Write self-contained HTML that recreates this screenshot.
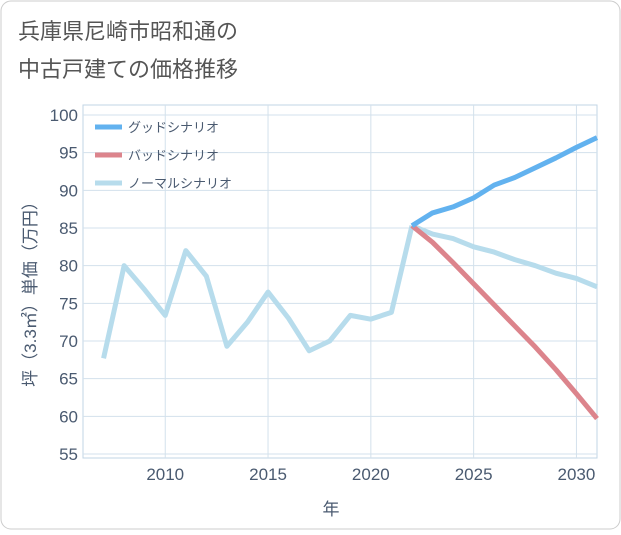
<!DOCTYPE html>
<html><head><meta charset="utf-8"><style>
body{margin:0;background:#fff;}
#c{position:relative;width:621px;height:530px;}
svg text{font-family:"Liberation Sans","Noto Sans CJK JP",sans-serif;}
</style></head><body>
<div id="c">
<svg id="s" width="621" height="530" xmlns="http://www.w3.org/2000/svg">
<rect x="1" y="1" width="619" height="528" rx="10" fill="#fff" stroke="#ccc"/>
<text x="18" y="39" font-size="22" fill="#555">兵庫県尼崎市昭和通の</text>
<text x="18" y="77" font-size="22" fill="#555">中古戸建ての価格推移</text>
<g id="grid"></g>
<g id="series"></g>
<g id="legend"></g>
<text x="331" y="515" font-size="17" fill="#4a5a70" text-anchor="middle">年</text>
<text transform="translate(36,290) rotate(-90)" font-size="17" fill="#4a5a70" text-anchor="middle">坪（3.3㎡）単価（万円）</text>
</svg></div>
<script>
const years=[2007,2008,2009,2010,2011,2012,2013,2014,2015,2016,2017,2018,2019,2020,2021,2022];
const history=[67.7,80,76.8,73.4,82,78.6,69.3,72.5,76.5,73,68.7,70,73.4,72.9,73.8,85.3];
const futureYears=[2022,2023,2024,2025,2026,2027,2028,2029,2030,2031];
const good=[85.3,87,87.8,89,90.7,91.7,93,94.3,95.7,97];
const bad=[85.3,83.1,80.4,77.6,74.8,72.0,69.2,66.2,63.0,59.7];
const normal=[85.3,84.2,83.6,82.5,81.8,80.8,80,79,78.3,77.2];
const yTicks=[55,60,65,70,75,80,85,90,95,100];
const xTicks=[2010,2015,2020,2025,2030];
const L=83,R=597,T=105,B=458;
const xS=v=>L+(v-2006)*(R-L)/25;
const yS=v=>454-(v-55)*(454-115)/45;
const NS="http://www.w3.org/2000/svg";
function mk(t,a,p){const e=document.createElementNS(NS,t);for(const k in a)e.setAttribute(k,a[k]);p.appendChild(e);return e;}
const g=document.getElementById('grid');
let r=mk('rect',{x:L,y:T,width:R-L,height:B-T,fill:'none',stroke:'#c2d4e4'},g);


yTicks.forEach(v=>{
 let l=mk('line',{x1:L,x2:R,y1:yS(v),y2:yS(v),stroke:'#d3e1ec'},g);
 
 
 let t=mk('text',{x:L-5,y:yS(v)+6,'font-size':17,fill:'#4a5a70','text-anchor':'end'},g);t.textContent=v;
 
 
});
xTicks.forEach(v=>{
 let l=mk('line',{x1:xS(v),x2:xS(v),y1:T,y2:B,stroke:'#d3e1ec'},g);
 
 
 let t=mk('text',{x:xS(v),y:480,'font-size':17,fill:'#4a5a70','text-anchor':'middle'},g);t.textContent=v;
 
 
});
const s=document.getElementById('series');
function line(xs,ys,c,name){
 const p=mk('polyline',{points:xs.map((x,i)=>xS(x)+','+yS(ys[i])).join(' '),fill:'none',stroke:c,'stroke-width':5,'stroke-linejoin':'round'},s);
 
 
}
line(years,history,'#b7dcec','history-line');
line(futureYears,normal,'#b7dcec','normal-scenario-line');
line(futureYears,bad,'#dc848c','bad-scenario-line');
line(futureYears,good,'#62b2ef','good-scenario-line');
const lg=document.getElementById('legend');
[['グッドシナリオ','#62b2ef','legend-good'],['バッドシナリオ','#dc848c','legend-bad'],['ノーマルシナリオ','#b7dcec','legend-normal']].forEach((d,i)=>{
 const y=127+i*28;
 let l=mk('line',{x1:95,x2:122,y1:y,y2:y,stroke:d[1],'stroke-width':5},lg);
 
 
 let t=mk('text',{x:128,y:y+5,'font-size':13,fill:'#4a5a70'},lg);t.textContent=d[0];
 
 
});
</script>
</body></html>
